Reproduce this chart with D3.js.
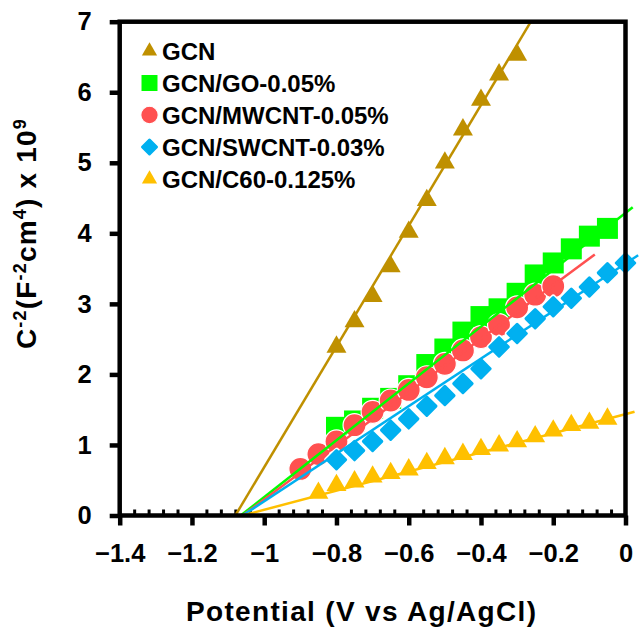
<!DOCTYPE html>
<meta charset="utf-8">
<title>Mott-Schottky plot</title>
<style>
    body {
        margin: 0;
        background: #fff;
    }

    svg text {
        font-family: "Liberation Sans", Arial, sans-serif;
        font-weight: bold;
        fill: #000;
    }
</style>

<body>
    <div id="chart"></div>

    <script src="https://cdn.jsdelivr.net/npm/d3@7"></script>
    <script>
        // potential (V vs Ag/AgCl) and C^-2 (x 10^9) read for each sample
        var gcnX = [-0.80, -0.75, -0.70, -0.65, -0.60, -0.55, -0.50, -0.45, -0.40, -0.35, -0.30];
        var gcnY = [2.39, 2.75, 3.11, 3.53, 4.02, 4.47, 5.00, 5.47, 5.89, 6.25, 6.53];

        var goX = [-0.80, -0.75, -0.70, -0.65, -0.60, -0.55, -0.50, -0.45, -0.40, -0.35, -0.30, -0.25, -0.20, -0.15, -0.10, -0.05];
        var goY = [1.25, 1.34, 1.52, 1.66, 1.84, 2.14, 2.36, 2.60, 2.82, 2.93, 3.15, 3.41, 3.58, 3.78, 3.96, 4.07];

        var mwX = [-0.90, -0.85, -0.80, -0.75, -0.70, -0.65, -0.60, -0.55, -0.50, -0.45, -0.40, -0.35, -0.30, -0.25, -0.20];
        var mwY = [0.66, 0.87, 1.05, 1.28, 1.47, 1.63, 1.78, 1.96, 2.15, 2.34, 2.53, 2.70, 2.95, 3.13, 3.25];

        var swX = [-0.80, -0.75, -0.70, -0.65, -0.60, -0.55, -0.50, -0.45, -0.40, -0.35, -0.30, -0.25, -0.20, -0.15, -0.10, -0.05, 0.00];
        var swY = [0.79, 0.92, 1.05, 1.21, 1.37, 1.55, 1.70, 1.87, 2.08, 2.39, 2.58, 2.79, 2.96, 3.08, 3.24, 3.44, 3.58];

        var c60X = [-0.85, -0.80, -0.75, -0.70, -0.65, -0.60, -0.55, -0.50, -0.45, -0.40, -0.35, -0.30, -0.25, -0.20, -0.15, -0.10, -0.05];
        var c60Y = [0.32, 0.43, 0.48, 0.55, 0.60, 0.65, 0.74, 0.81, 0.87, 0.94, 0.99, 1.05, 1.12, 1.20, 1.28, 1.31, 1.37];

        var seriesNames = ["GCN", "GCN/GO-0.05%", "GCN/MWCNT-0.05%", "GCN/SWCNT-0.03%", "GCN/C60-0.125%"];
        var seriesColors = ["#BF9000", "#00FF00", "#FF5050", "#00B0F0", "#FFC000"];
        var seriesShapes = ["triangle", "square", "circle", "diamond", "triangle"];

        // linear fits: from the flat-band potential (y = 0) up to an end point
        var fitStartX = [-1.08, -1.065, -1.06, -1.06, -1.06];
        var fitEndX = [-0.262, 0.02, -0.085, 0.035, 0.025];
        var fitEndY = [7.0, 4.37, 3.70, 3.69, 1.47];

        // axis ticks
        var xTicks = [-1.4, -1.2, -1.0, -0.8, -0.6, -0.4, -0.2, 0];
        var xTickLabels = ["\u22121.4", "\u22121.2", "\u22121", "\u22120.8", "\u22120.6", "\u22120.4", "\u22120.2", "0"];
        var xMinorTicks = d3.range(-1.36, 0, 0.04).filter(function(v) {
            return Math.abs(v / 0.2 - Math.round(v / 0.2)) > 0.01;
        });
        var yTicks = [0, 1, 2, 3, 4, 5, 6, 7];
        var yTickLabels = ["0", "1", "2", "3", "4", "5", "6", "7"];

        var seriesX = [gcnX, goX, mwX, swX, c60X];
        var seriesY = [gcnY, goY, mwY, swY, c60Y];

        // plot box
        var W = 639,
            H = 631,
            plotL = 119.7,
            plotR = 625.5,
            plotT = 21.7,
            plotB = 515.5;

        var svg = d3.select("#chart")
            .append("svg")
            .attr("width", W)
            .attr("height", H);

        var x = d3.scaleLinear().domain([-1.4, 0]).range([plotL, plotR]);
        var y = d3.scaleLinear().domain([0, 7]).range([plotB, plotT]);

        // minor ticks on x axis point inward
        var xMinor = svg.append("g")
            .attr("transform", "translate(0," + plotB + ")")
            .call(d3.axisBottom(x).tickValues(xMinorTicks).tickSize(-6).tickFormat(""));
        xMinor.select(".domain").remove();
        xMinor.selectAll("line").attr("stroke-width", 3);

        // major ticks + labels
        var xAxis = svg.append("g")
            .attr("transform", "translate(0," + plotB + ")")
            .call(d3.axisBottom(x)
                .tickValues(xTicks)
                .tickSize(10)
                .tickPadding(18)
                .tickFormat(function(d, i) { return xTickLabels[i]; }));
        xAxis.select(".domain").remove();
        xAxis.selectAll("line").attr("stroke-width", 4.5);
        xAxis.selectAll("text").attr("font-size", 25.5).attr("font-family", null);

        var yAxis = svg.append("g")
            .attr("transform", "translate(" + plotL + ",0)")
            .call(d3.axisLeft(y)
                .tickValues(yTicks)
                .tickSize(10)
                .tickPadding(18)
                .tickFormat(function(d, i) { return yTickLabels[i]; }));
        yAxis.select(".domain").remove();
        yAxis.selectAll("line").attr("stroke-width", 4.5);
        yAxis.selectAll("text").attr("font-size", 25.5).attr("font-family", null);

        // marker drawing
        function addMarker(g, shape, color, scale) {
            var sym = d3.symbol();
            if (shape == "triangle") {
                g.append("path")
                    .attr("d", sym.type(d3.symbolTriangle).size(173 * scale)())
                    .attr("fill", color);
            } else if (shape == "square") {
                g.append("path")
                    .attr("d", sym.type(d3.symbolSquare).size(441 * scale)())
                    .attr("fill", color);
            } else if (shape == "circle") {
                g.append("path")
                    .attr("d", sym.type(d3.symbolCircle).size(415 * scale)())
                    .attr("fill", color)
                    .attr("stroke", "#fff")
                    .attr("stroke-width", 1.2);
            } else {
                var d = sym.type(d3.symbolSquare).size(169 * scale)();
                g.append("path")
                    .attr("d", d)
                    .attr("transform", "rotate(45)")
                    .attr("fill", "#fff")
                    .attr("stroke", "#fff")
                    .attr("stroke-width", 6)
                    .attr("stroke-linejoin", "round");
                g.append("path")
                    .attr("d", d)
                    .attr("transform", "rotate(45)")
                    .attr("fill", color)
                    .attr("stroke", color)
                    .attr("stroke-width", 3)
                    .attr("stroke-linejoin", "round");
            }
        }

        // markers of each series
        seriesNames.forEach(function(name, s) {
            var pts = seriesX[s].map(function(v, i) {
                return { x: v, y: seriesY[s][i] };
            });
            svg.append("g").selectAll("g")
                .data(pts)
                .enter()
                .append("g")
                .attr("transform", function(d) {
                    return "translate(" + x(d.x) + "," + y(d.y) + ")";
                })
                .each(function() {
                    addMarker(d3.select(this), seriesShapes[s], seriesColors[s], 1);
                });
        });

        // trend lines on top of the markers
        var line = d3.line()
            .x(function(d) { return x(d[0]); })
            .y(function(d) { return y(d[1]); });
        seriesNames.forEach(function(name, s) {
            svg.append("path")
                .attr("d", line([[fitStartX[s], 0], [fitEndX[s], fitEndY[s]]]))
                .attr("fill", "none")
                .attr("stroke", seriesColors[s])
                .attr("stroke-width", 2.5);
        });

        // plot frame
        svg.append("rect")
            .attr("x", plotL)
            .attr("y", plotT)
            .attr("width", plotR - plotL)
            .attr("height", plotB - plotT)
            .attr("fill", "none")
            .attr("stroke", "#000")
            .attr("stroke-width", 4.5);

        // legend
        var legend = svg.append("g");
        seriesNames.forEach(function(name, s) {
            var base = 59.5 + s * 32;
            var g = legend.append("g")
                .attr("transform", "translate(149.5," + (base - 8.5) + ")");
            addMarker(g, seriesShapes[s], seriesColors[s], 0.58);
            legend.append("text")
                .attr("x", 162)
                .attr("y", base)
                .attr("font-size", 24)
                .text(name);
        });

        // axis titles
        svg.append("text")
            .attr("x", 361)
            .attr("y", 621)
            .attr("text-anchor", "middle")
            .attr("font-size", 28)
            .attr("textLength", 350)
            .attr("lengthAdjust", "spacing")
            .text("Potential (V vs Ag/AgCl)");

        var yt = svg.append("text")
            .attr("transform", "translate(36,233.5) rotate(-90)")
            .attr("text-anchor", "middle")
            .attr("font-size", 28)
            .attr("letter-spacing", 1.2);
        var parts = [["C", 0], ["-2", 1], ["(F", 0], ["-2", 1], ["cm", 0], ["4", 1], [") x 10", 0], ["9", 1]];
        var prevSup = 0;
        parts.forEach(function(p) {
            yt.append("tspan")
                .attr("dy", p[1] ? -10 : (prevSup ? 10 : 0))
                .attr("font-size", p[1] ? 18 : 28)
                .text(p[0]);
            prevSup = p[1];
        });
    </script>
</body>
